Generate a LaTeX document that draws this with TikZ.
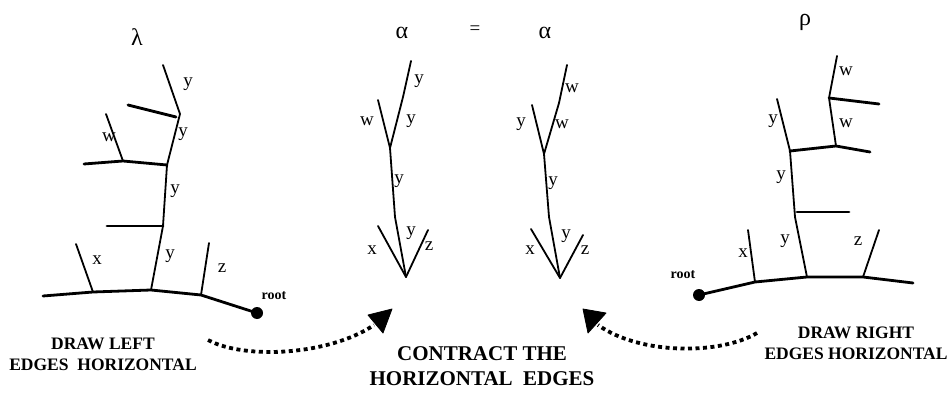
\documentclass[tikz,border=0pt]{standalone}
\usepackage{fontspec}
\setmainfont{Liberation Serif}
\begin{document}
\begin{tikzpicture}[x=1pt,y=-1pt,
  edge/.style={line width=1.8pt,line join=round,line cap=round},
  hedge/.style={line width=2.8pt,line join=round,line cap=round},
  lab/.style={inner sep=0pt,font=\fontsize{19}{19}\selectfont},
  greek/.style={inner sep=0pt,font=\fontsize{24}{24}\selectfont},
  rootlab/.style={inner sep=0pt,font=\fontsize{14}{14}\selectfont\bfseries},
  caption/.style={inner sep=0pt,align=center,font=\fontsize{17.5}{21}\selectfont\bfseries},
  bigcaption/.style={inner sep=0pt,align=center,font=\fontsize{21}{25}\selectfont\bfseries},
  dots/.style={line width=3.8pt,dash pattern=on 4pt off 3.5pt},
  tip/.style={fill=black,draw=black,line width=0.8pt,line join=round}]
\useasboundingbox (0,0) rectangle (949,395);
% ---------------- left tree (lambda) ----------------
\node[greek] (lam) at (137,37) {λ};
\coordinate (L1) at (163,65);
\coordinate (L2) at (180,114);
\coordinate (L3) at (167,165);
\coordinate (L4) at (163,226);
\coordinate (L5) at (151,290);
\coordinate (Lh1) at (128,105);
\coordinate (Lh1e) at (176,117);
\coordinate (Lw) at (106,114);
\coordinate (Lw2) at (123,161);
\coordinate (Lh2) at (84,164);
\coordinate (Lh3) at (107,226);
\coordinate (Lx) at (76,244);
\coordinate (Lxb) at (93,292);
\coordinate (Lz) at (209,243);
\coordinate (Lzb) at (201,295);
\coordinate (Lb0) at (43,296);
\coordinate (Lroot) at (257,313);
\draw[edge] (L1) -- (L2) -- (L3) -- (L4) -- (L5);
\draw[hedge] (Lh1) -- (Lh1e);
\draw[edge] (Lw) -- (Lw2);
\draw[hedge] (Lh2) -- (Lw2) -- (L3);
\draw[hedge] (Lh3) -- (L4);
\draw[edge] (Lx) -- (Lxb);
\draw[edge] (Lz) -- (Lzb);
\draw[hedge] (Lb0) -- (Lxb) -- (L5) -- (Lzb) -- (Lroot);
\fill (Lroot) circle (6);
\node[lab] (ly1) at (188,84) {y};
\node[lab] (ly2) at (183,134) {y};
\node[lab] (lw) at (109,137) {w};
\node[lab] (ly3) at (175,191) {y};
\node[lab] (ly4) at (170,256) {y};
\node[lab] (lx) at (97,260) {x};
\node[lab] (lz) at (222,268) {z};
\node[rootlab] (lroot) at (274,296) {root};
% ---------------- middle trees (alpha = alpha) ----------------
\node[greek] (al1) at (402,33) {α};
\node[lab] (eq) at (475,30) {=};
\node[greek] (al2) at (545,33) {α};
\coordinate (A1) at (411,61);
\coordinate (A2) at (403,97);
\coordinate (A3) at (390,148);
\coordinate (Aw) at (378,100);
\coordinate (A4) at (395,217);
\coordinate (A5) at (406,277);
\coordinate (Ax) at (378,226);
\coordinate (Az) at (428,230);
\draw[edge] (A1) -- (A2) -- (A3) -- (A4) -- (A5);
\draw[edge] (Aw) -- (A3);
\draw[edge] (Ax) -- (A5) -- (Az);
\node[lab] at (419,81) {y};
\node[lab] at (411,121) {y};
\node[lab] at (367,121) {w};
\node[lab] at (399,181) {y};
\node[lab] at (411,233) {y};
\node[lab] at (372,250) {x};
\node[lab] at (429,246) {z};
\coordinate (B1) at (567,65);
\coordinate (B2) at (559,103);
\coordinate (B3) at (544,154);
\coordinate (By) at (532,105);
\coordinate (B4) at (549,217);
\coordinate (B5) at (560,278);
\coordinate (Bx) at (531,229);
\coordinate (Bz) at (583,235);
\draw[edge] (B1) -- (B2) -- (B3) -- (B4) -- (B5);
\draw[edge] (By) -- (B3);
\draw[edge] (Bx) -- (B5) -- (Bz);
\node[lab] at (572,88) {w};
\node[lab] at (562,124) {w};
\node[lab] at (521,124) {y};
\node[lab] at (553,183) {y};
\node[lab] at (566,236) {y};
\node[lab] at (530,250) {x};
\node[lab] at (585,250) {z};
% ---------------- right tree (rho) ----------------
\node[greek] (rho) at (805,22) {ρ};
\coordinate (R1) at (837,56);
\coordinate (R2) at (829,98);
\coordinate (Rh1) at (879,104);
\coordinate (R3) at (836,146);
\coordinate (Rh2a) at (790,151);
\coordinate (Rh2b) at (870,152);
\coordinate (Ry) at (777,99);
\coordinate (R4) at (795,217);
\coordinate (Rh3a) at (797,212);
\coordinate (Rh3) at (849,212);
\coordinate (R5) at (807,277);
\coordinate (Rx) at (748,230);
\coordinate (Rxb) at (755,282);
\coordinate (Rz) at (879,230);
\coordinate (Rzb) at (863,277);
\coordinate (Rroot) at (699,295);
\coordinate (Rend) at (913,283);
\draw[edge] (R1) -- (R2) -- (R3);
\draw[hedge] (R2) -- (Rh1);
\draw[hedge] (Rh2a) -- (R3) -- (Rh2b);
\draw[edge] (Ry) -- (Rh2a) -- (R4) -- (R5);
\draw[hedge] (Rh3a) -- (Rh3);
\draw[edge] (Rx) -- (Rxb);
\draw[edge] (Rz) -- (Rzb);
\draw[hedge] (Rroot) -- (Rxb) -- (R5) -- (Rzb) -- (Rend);
\fill (Rroot) circle (6);
\node[lab] at (846,71) {w};
\node[lab] at (846,123) {w};
\node[lab] at (773,121) {y};
\node[lab] at (781,177) {y};
\node[lab] at (785,241) {y};
\node[lab] at (743,253) {x};
\node[lab] at (858,241) {z};
\node[rootlab] (rroot) at (683,275) {root};
% ---------------- captions and arrows ----------------
\node[caption] (capl) at (103,354) {DRAW LEFT\\EDGES\ \ HORIZONTAL};
\node[bigcaption] (capm) at (482,366) {CONTRACT THE\\HORIZONTAL\ \ EDGES};
\node[caption] (capr) at (856,343) {DRAW RIGHT\\EDGES HORIZONTAL};
\coordinate (la0) at (208,340);
\coordinate (la1) at (374,325);
\coordinate (lt1) at (368,315);
\coordinate (lt2) at (392,309);
\coordinate (lt3) at (383,333);
\draw[dots] (la0) .. controls (245,360) and (330,355) .. (la1);
\fill[tip] (lt1) -- (lt2) -- (lt3) -- cycle;
\coordinate (ra0) at (757,333);
\coordinate (ra1) at (598,325);
\coordinate (rt1) at (583,309);
\coordinate (rt2) at (606,313);
\coordinate (rt3) at (588,333);
\draw[dots] (ra0) .. controls (720,355) and (640,355) .. (ra1);
\fill[tip] (rt1) -- (rt2) -- (rt3) -- cycle;
\end{tikzpicture}
\end{document}
